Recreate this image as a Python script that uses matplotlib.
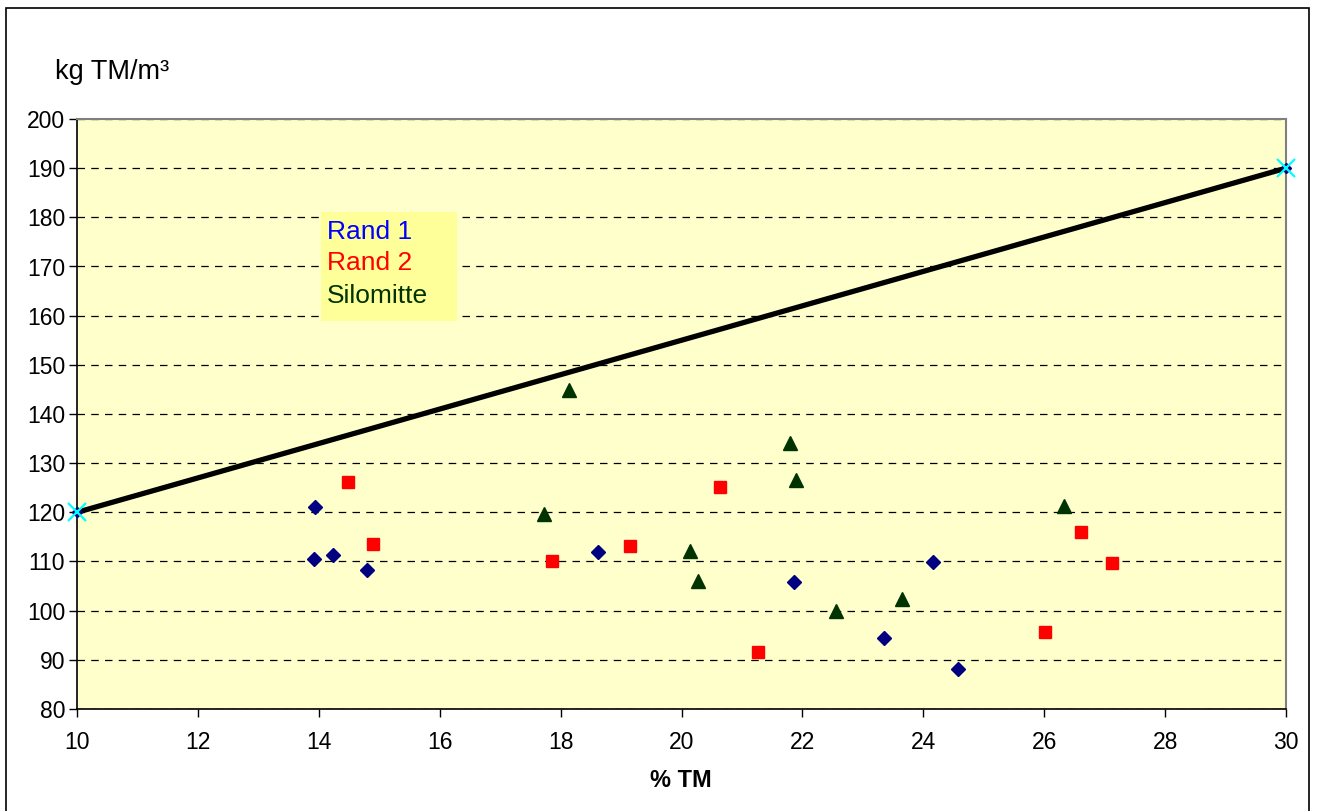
import matplotlib
matplotlib.use("Agg")
import matplotlib.pyplot as plt
from matplotlib.patches import Rectangle

plt.rcParams['font.family'] = ['Liberation Sans', 'DejaVu Sans']

# Rand 1
rand1_x = [13.94, 13.92, 14.23, 14.80, 18.62, 21.86, 23.35, 24.16, 24.57]
rand1_y = [121.1, 110.5, 111.3, 108.3, 111.9, 105.8, 94.4, 109.9, 88.1]
# Rand 2
rand2_x = [14.48, 14.90, 17.86, 19.15, 20.64, 21.27, 26.01, 26.61, 27.12]
rand2_y = [126.2, 113.6, 110.1, 113.2, 125.2, 91.6, 95.7, 116.0, 109.7]
# Silomitte
silo_x = [18.14, 17.73, 20.14, 20.27, 21.79, 21.89, 22.56, 23.65, 26.33]
silo_y = [144.9, 119.7, 112.1, 106.0, 134.1, 126.6, 99.9, 102.4, 121.3]
# Reference line
line_x = [10, 30]
line_y = [120, 190]

x_ticks = list(range(10, 31, 2))
y_ticks = list(range(80, 201, 10))

W, H = 1317, 811
fig = plt.figure(figsize=(W / 100, H / 100), dpi=100)
fig.patch.set_facecolor('white')
# outer chart frame (bottom edge runs below the canvas)
fig.add_artist(Rectangle((5.5 / W, -5 / H), (1309 - 5.5) / W, (H - 8 + 5) / H,
                         transform=fig.transFigure, fill=False,
                         edgecolor='black', linewidth=1.2))

ax = fig.add_axes([77 / W, 1 - 709 / H, (1286 - 77) / W, (709 - 119) / H])
ax.set_facecolor('#FFFFCC')
ax.set_xlim(10, 30)
ax.set_ylim(80, 200)
ax.set_xticks(x_ticks)
ax.set_yticks(y_ticks)
ax.tick_params(axis='both', labelsize=16.5, direction='out', length=5.5,
               width=1, colors='black')
ax.tick_params(axis='y', pad=3)
ax.tick_params(axis='x', pad=10)

for s in ['top', 'right']:
    ax.spines[s].set_color('#808080')
    ax.spines[s].set_linewidth(1.5)
for s in ['left', 'bottom']:
    ax.spines[s].set_color('black')
    ax.spines[s].set_linewidth(1.2)

ax.yaxis.grid(True, color='black', linestyle=(0, (6, 5)), linewidth=0.9)
ax.set_axisbelow(True)

ax.plot(line_x, line_y, color='black', linewidth=3.8, solid_capstyle='butt',
        zorder=3, clip_on=False)
ax.plot(line_x, line_y, linestyle='none', marker='D', markersize=5,
        color='#000080', zorder=4, clip_on=False)
ax.plot(line_x, line_y, linestyle='none', marker='x', markersize=13,
        markeredgewidth=1.6, color='#00FFFF', zorder=5, clip_on=False)

ax.plot(rand1_x, rand1_y, linestyle='none', marker='D', markersize=6.8,
        color='#000080', zorder=4)
ax.plot(rand2_x, rand2_y, linestyle='none', marker='s', markersize=8.8,
        color='#FF0000', zorder=4)
ax.plot(silo_x, silo_y, linestyle='none', marker='^', markersize=9.5,
        color='#003300', zorder=4)

# Legend box drawn as text block
fig.add_artist(Rectangle((321 / W, 1 - 321 / H), (457 - 321) / W, (321 - 212) / H,
                         transform=fig.transFigure, facecolor='#FFFF99',
                         edgecolor='none', zorder=5))
for label, color, yb in [('Rand 1', '#0000FF', 239),
                         ('Rand 2', '#FF0000', 270),
                         ('Silomitte', '#003300', 303)]:
    fig.text(327 / W, 1 - yb / H, label, color=color, fontsize=19,
             ha='left', va='baseline', zorder=6)

fig.text(55 / W, 1 - 79 / H, 'kg TM/m³', fontsize=19.5, ha='left', va='baseline')
fig.text(681 / W, 1 - 787 / H, '% TM', fontsize=17, fontweight='bold',
         ha='center', va='baseline')

fig.savefig('out.png', dpi=100)
